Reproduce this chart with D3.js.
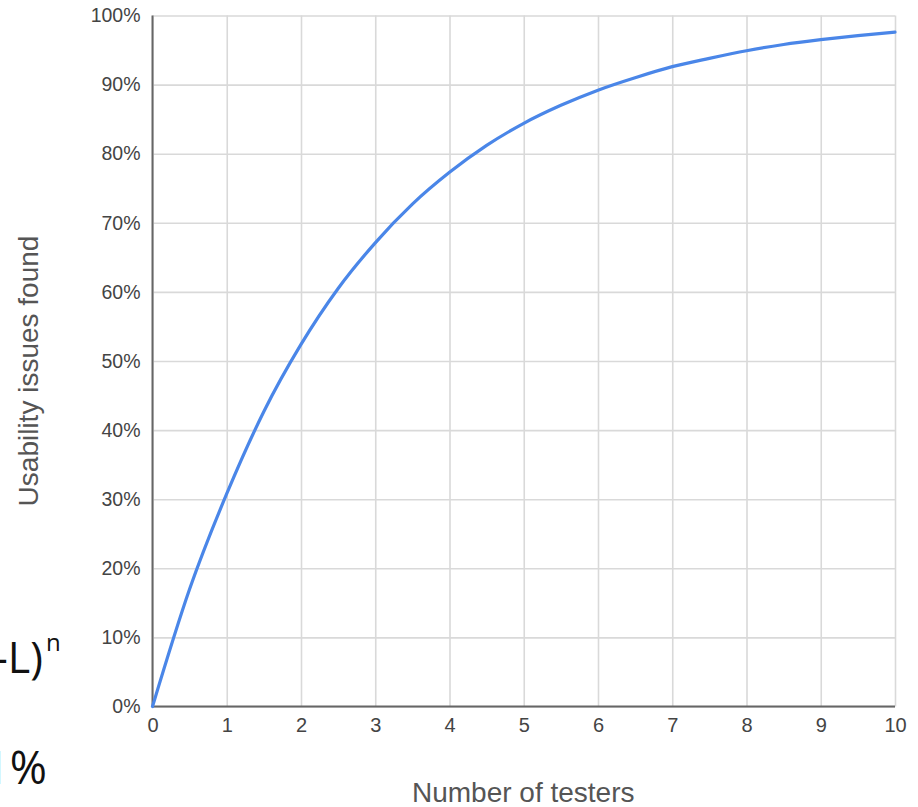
<!DOCTYPE html>
<html>
<head>
<meta charset="utf-8">
<script src="https://cdn.jsdelivr.net/npm/d3@7"></script>
<style>
body { margin: 0; background: #fff; }
svg { display: block; font-family: "Liberation Sans", Arial, sans-serif; }
</style>
</head>
<body>
<svg></svg>
<script>
//Chart data
var testers = [0, 0.5, 1, 1.5, 2, 2.5, 3, 3.5, 4, 4.5, 5, 5.5, 6, 6.5, 7, 7.5, 8, 8.5, 9, 9.5, 10];
var issuesFound = [0, 17.0, 30.8, 42.7, 52.4, 60.5, 67.1, 72.7, 77.3, 81.2, 84.4, 87.0, 89.2, 91.0, 92.6, 93.8, 94.9, 95.8, 96.5, 97.1, 97.6];
var xTicks = [0, 1, 2, 3, 4, 5, 6, 7, 8, 9, 10];
var yTicks = [0, 10, 20, 30, 40, 50, 60, 70, 80, 90, 100];
var xTitle = "Number of testers";
var yTitle = "Usability issues found";

//Canvas settings
var width = 918;
var height = 807;
var plotLeft = 152.5, plotRight = 895, plotTop = 15.5, plotBottom = 706.5;

var svg = d3.select("svg")
	.attr("width", width)
	.attr("height", height);

var x = d3.scaleLinear().domain([0, 10]).range([plotLeft, plotRight]);
var y = d3.scaleLinear().domain([0, 100]).range([plotBottom, plotTop]);

//grid lines
svg.append("g")
	.attr("transform", "translate(0," + plotBottom + ")")
	.call(d3.axisBottom(x).tickValues(xTicks).tickSize(-(plotBottom - plotTop)).tickFormat(""))
	.call(function(g) {
		g.select(".domain").remove();
		g.selectAll("line").attr("stroke", "#d9d9d9").attr("stroke-width", 1.6);
	});

svg.append("g")
	.attr("transform", "translate(" + plotLeft + ",0)")
	.call(d3.axisLeft(y).tickValues(yTicks).tickSize(-(plotRight - plotLeft)).tickFormat(""))
	.call(function(g) {
		g.select(".domain").remove();
		g.selectAll("line").attr("stroke", "#d9d9d9").attr("stroke-width", 1.6);
	});

//tick labels
svg.append("g")
	.attr("transform", "translate(0," + plotBottom + ")")
	.call(d3.axisBottom(x).tickValues(xTicks).tickSize(0).tickPadding(11).tickFormat(d3.format("d")))
	.call(function(g) {
		g.select(".domain").remove();
		g.selectAll("text").attr("font-size", 20).attr("fill", "#444")
			.attr("font-family", "Liberation Sans, Arial, sans-serif");
	});

svg.append("g")
	.attr("transform", "translate(" + plotLeft + ",0)")
	.call(d3.axisLeft(y).tickValues(yTicks).tickSize(0).tickPadding(12).tickFormat(function(d) { return d + "%"; }))
	.call(function(g) {
		g.select(".domain").remove();
		g.selectAll("text").attr("font-size", 19.5).attr("fill", "#444")
			.attr("font-family", "Liberation Sans, Arial, sans-serif");
	});

//axis lines
svg.append("line")
	.attr("x1", plotLeft).attr("x2", plotRight)
	.attr("y1", plotBottom).attr("y2", plotBottom)
	.attr("stroke", "#666").attr("stroke-width", 2);
svg.append("line")
	.attr("x1", plotLeft).attr("x2", plotLeft)
	.attr("y1", plotTop).attr("y2", plotBottom)
	.attr("stroke", "#666").attr("stroke-width", 2);

//the curve
var line = d3.line()
	.x(function(d, i) { return x(testers[i]); })
	.y(function(d) { return y(d); })
	.curve(d3.curveMonotoneX);

svg.append("path")
	.datum(issuesFound)
	.attr("d", line)
	.attr("fill", "none")
	.attr("stroke", "#4a86e8")
	.attr("stroke-width", 3.2)
	.attr("stroke-linecap", "round");

//axis titles
svg.append("text")
	.attr("x", (plotLeft + plotRight) / 2 - 0.5)
	.attr("y", 802)
	.attr("text-anchor", "middle")
	.attr("font-size", 28)
	.attr("fill", "#555")
	.text(xTitle);

svg.append("text")
	.attr("transform", "translate(38," + ((plotTop + plotBottom) / 2 + 10) + ") rotate(-90)")
	.attr("text-anchor", "middle")
	.attr("font-size", 28)
	.attr("fill", "#555")
	.text(yTitle);

//pieces of slide text cut off at the left edge
var formula = svg.append("text")
	.attr("x", -6)
	.attr("y", 673)
	.attr("font-family", "Open Sans, sans-serif")
	.attr("font-size", 43)
	.attr("fill", "#111");
formula.append("tspan").text("-L)");
formula.append("tspan")
	.attr("dy", -22)
	.attr("dx", 3)
	.attr("font-size", 24)
	.text("n");

svg.append("text")
	.attr("x", -16)
	.attr("y", 784)
	.attr("font-family", "Open Sans, sans-serif")
	.attr("font-size", 45)
	.attr("fill", "#111")
	.text("1%");
</script>
</body>
</html>
